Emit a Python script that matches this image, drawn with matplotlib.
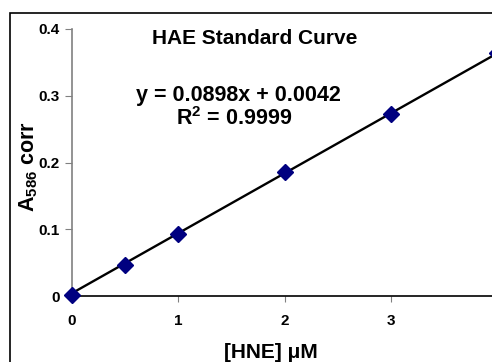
import matplotlib
matplotlib.use("Agg")
import matplotlib.pyplot as plt
from matplotlib.patches import Rectangle
import numpy as np

plt.rcParams['font.family'] = ['Liberation Sans', 'DejaVu Sans']
plt.rcParams['mathtext.fontset'] = 'custom'
plt.rcParams['mathtext.rm'] = 'Liberation Sans:bold'
plt.rcParams['mathtext.bf'] = 'Liberation Sans:bold'
plt.rcParams['mathtext.it'] = 'Liberation Sans:bold'

conc = [0, 0.5, 1, 2, 3, 4]
absorb = [0.0015, 0.0465, 0.093, 0.186, 0.273, 0.364]
slope = 0.0898
intercept = 0.0042
xticks = [0, 1, 2, 3]
yticks = [0, 0.1, 0.2, 0.3, 0.4]
yticklabels = ['0', '0.1', '0.2', '0.3', '0.4']

W, H = 492, 362
fig = plt.figure(figsize=(W/100, H/100), dpi=100)

# outer chart frame
fig.patches.append(Rectangle((10/W, -0.05), (W+5)/W, (H-13)/H + 0.05, transform=fig.transFigure,
                             fill=False, edgecolor='black', linewidth=1.2))

x0, x1 = 72, 497
y0, y1 = 296, 29
ax = fig.add_axes([x0/W, (H-y0)/H, (x1-x0)/W, (y0-y1)/H])
ax.set_xlim(0, 4)
ax.set_ylim(0, 0.4)

xs = np.array([0, 4])
ax.plot(xs, slope*xs + intercept, color='black', linewidth=1.7, clip_on=False, zorder=2)
ax.plot(conc, absorb, linestyle='none', marker='D', markersize=8.5,
        color='#000080', clip_on=False, zorder=3)

for s in ['top', 'right']:
    ax.spines[s].set_visible(False)
ax.spines['left'].set_color('#808080')
ax.spines['bottom'].set_color('black')
ax.spines['left'].set_linewidth(1.2)
ax.spines['bottom'].set_linewidth(1.2)

ax.set_xticks(xticks)
ax.set_xticklabels([str(t) for t in xticks], fontweight='bold', fontsize=11)
ax.set_yticks(yticks)
ax.set_yticklabels(yticklabels, fontweight='bold', fontsize=11)
ax.tick_params(axis='x', direction='out', length=4, color='#808080', pad=9)
ax.tick_params(axis='y', direction='out', length=5, color='#808080', pad=4)

fig.text(271/W, 1-352/H, '[HNE] μM', ha='center', va='center',
         fontweight='bold', fontsize=15)
fig.text(29/W, 1-167/H, r'A$_{\mathbf{586}}$ corr', ha='center', va='center',
         rotation=90, fontweight='bold', fontsize=15.5)

fig.text(255/W, 1-38/H, 'HAE Standard Curve', ha='center', va='center',
         fontweight='bold', fontsize=15)
fig.text(238/W, 1-95/H, 'y = 0.0898x + 0.0042', ha='center', va='center',
         fontweight='bold', fontsize=15.5)
fig.text(234/W, 1-119/H, r'R$^\mathbf{2}$ = 0.9999', ha='center', va='center',
         fontweight='bold', fontsize=15.5)

fig.savefig('out.png', dpi=100)
